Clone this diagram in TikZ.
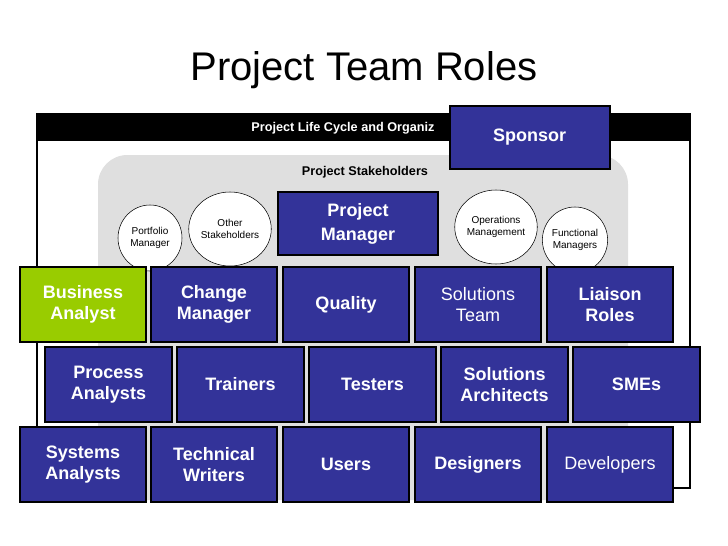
\documentclass[tikz,border=0pt]{standalone}
\usepackage{fontspec}
\usetikzlibrary{shapes.geometric}
\setmainfont{Liberation Sans}
\begin{document}
\begin{tikzpicture}[x=0.75pt,y=-0.75pt,
  role/.style={draw=black,line width=1.5pt,fill=rolebg,text=white,font=\fontsize{13.5}{16}\selectfont\bfseries,align=center,inner sep=0pt},
  rolen/.style={role,font=\fontsize{13.5}{16}\selectfont},
  stake/.style={draw=black,fill=white,ellipse,inner sep=0pt,font=\fontsize{7.5}{9}\selectfont,align=center}]
\definecolor{rolebg}{HTML}{333399}
\definecolor{baGreen}{HTML}{99CC00}
\useasboundingbox (0,0) rectangle (728,546);
\node (title) at (364,70) {\fontsize{30}{36}\selectfont Project Team Roles};
\draw[line width=1pt] (37,114) rectangle (690,488);
\fill (37,114) rectangle (690,141);
\node[text=white,font=\fontsize{9.5}{11}\selectfont\bfseries] (hdr) at (343,128) {Project Life Cycle and Organiz};
\fill[gray!25,rounded corners=22pt] (98,155) rectangle (628,500);
\node[font=\fontsize{9.5}{11}\selectfont\bfseries] (ps) at (365,172) {Project Stakeholders};
\node[stake,minimum width=48pt,minimum height=49.5pt] (pf) at (150,238) {Portfolio\\Manager};
\node[stake,minimum width=52.5pt,minimum height=55.5pt] (os) at (230,229) {Other\\Stakeholders};
\node[stake,minimum width=52.5pt,minimum height=55.5pt] (om) at (496,227) {Operations\\Management};
\node[stake,minimum width=48pt,minimum height=49.5pt] (fm) at (575,240) {Functional\\Managers};
\node[role,minimum width=120pt,minimum height=47.25pt] (spon) at (529.5,137.5) {Sponsor};
\node[role,minimum width=120pt,minimum height=47.25pt,font=\fontsize{13.5}{18}\selectfont\bfseries] (pm) at (358,223.5) {Project\\Manager};
% row 1
\node[role,fill=baGreen,minimum width=94.5pt,minimum height=56.25pt] (ba) at (83,304.5) {Business\\Analyst};
\node[role,minimum width=94.5pt,minimum height=56.25pt] (cm) at (214,304.5) {Change\\Manager};
\node[role,minimum width=94.5pt,minimum height=56.25pt] (q) at (346,304.5) {Quality};
\node[rolen,minimum width=94.5pt,minimum height=56.25pt] (st) at (478,304.5) {Solutions\\Team};
\node[role,minimum width=94.5pt,minimum height=56.25pt] (lr) at (610,304.5) {Liaison\\Roles};
% row 2
\node[role,minimum width=95.25pt,minimum height=56.25pt] (pa) at (108.5,384.5) {Process\\Analysts};
\node[role,minimum width=95.25pt,minimum height=56.25pt] (tr) at (240.5,384.5) {Trainers};
\node[role,minimum width=95.25pt,minimum height=56.25pt] (te) at (372.5,384.5) {Testers};
\node[role,minimum width=95.25pt,minimum height=56.25pt] (sa) at (504.5,384.5) {Solutions\\Architects};
\node[role,minimum width=95.25pt,minimum height=56.25pt] (sme) at (636.5,384.5) {SMEs};
% row 3
\node[role,minimum width=94.5pt,minimum height=56.25pt] (sy) at (83,464.5) {Systems\\Analysts};
\node[role,minimum width=94.5pt,minimum height=56.25pt] (tw) at (214,464.5) {Technical\\Writers};
\node[role,minimum width=94.5pt,minimum height=56.25pt] (us) at (346,464.5) {Users};
\node[role,minimum width=94.5pt,minimum height=56.25pt] (de) at (478,464.5) {Designers};
\node[rolen,minimum width=94.5pt,minimum height=56.25pt] (dv) at (610,464.5) {Developers};
\end{tikzpicture}
\end{document}
